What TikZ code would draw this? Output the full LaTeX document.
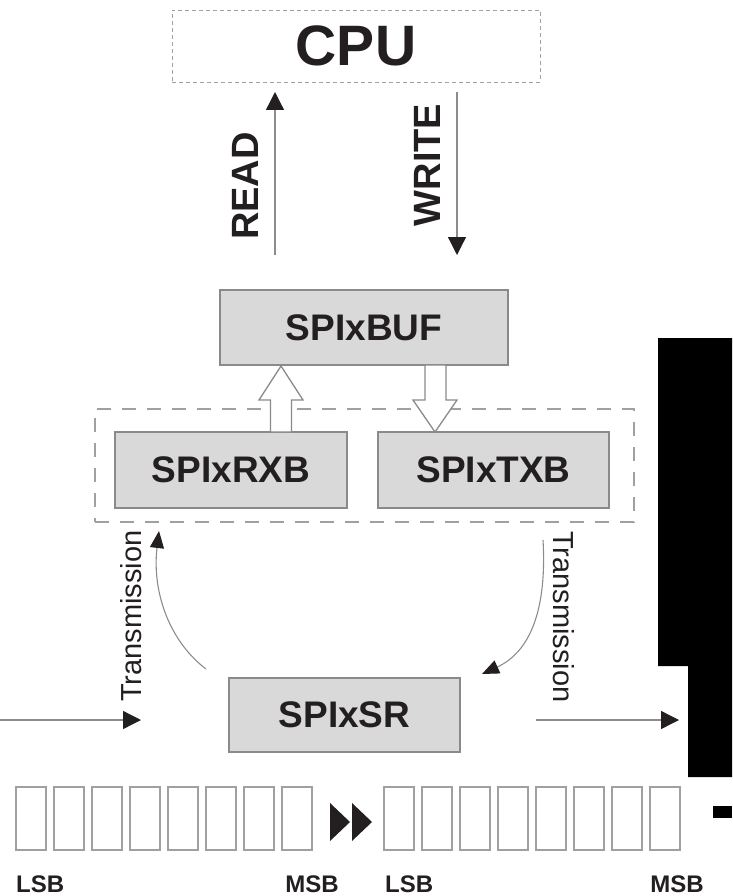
\documentclass[tikz,border=0pt]{standalone}
\usepackage{fontspec}
\setmainfont{Liberation Sans}
\usetikzlibrary{arrows.meta}
\definecolor{txt}{HTML}{231F20}
\definecolor{boxfill}{HTML}{D9D9D9}
\definecolor{boxline}{HTML}{8A8A8A}
\definecolor{lineg}{HTML}{8C8C8C}
\definecolor{dashg}{HTML}{A0A0A0}
\begin{document}
\begin{tikzpicture}[x=1pt,y=-1pt,
  regbox/.style={draw=boxline, line width=1.5pt, fill=boxfill, text=txt,
    font=\fontsize{37}{40}\selectfont\bfseries, inner sep=0pt},
  arr/.style={draw=lineg, line width=1.3pt, -{Triangle[length=18pt,width=18pt,color=txt]}},
  carr/.style={draw=lineg, line width=1.1pt, -{Triangle[length=17pt,width=14pt,color=txt]}},
  vlabel/.style={text=txt, font=\fontsize{38}{40}\selectfont\bfseries, inner sep=0pt, rotate=90},
  tlabel/.style={text=txt, font=\fontsize{29}{32}\selectfont, inner sep=0pt},
  bitlabel/.style={text=txt, font=\fontsize{24}{26}\selectfont\bfseries, inner sep=0pt},
  cell/.style={draw=dashg, line width=1.5pt, fill=white},
  hollow/.style={draw=boxline, line width=1.3pt, fill=white, line join=miter}
]
\useasboundingbox (0,0) rectangle (732,896);

% CPU
\node[draw=dashg, line width=0.9pt, dash pattern=on 4pt off 3pt, text=txt,
  font=\fontsize{57}{60}\selectfont\bfseries, minimum width=368pt, minimum height=72pt, inner sep=0pt]
  (cpu) at (356,46) {CPU};

% READ / WRITE
\coordinate (rd1) at (275,255);
\coordinate (rd2) at (275,92);
\coordinate (wr1) at (457,92);
\coordinate (wr2) at (457,255);
\draw[arr] (rd1) -- (rd2);
\draw[arr] (wr1) -- (wr2);
\node[vlabel] (read) at (245,186) {READ};
\node[vlabel] (write) at (427,165) {WRITE};

% Buffer
\node[regbox, minimum width=288pt, minimum height=75pt] (buf) at (364,327.5) {SPIxBUF};

% group dashed box
\node[draw=dashg, line width=1.8pt, dash pattern=on 14pt off 11pt,
  minimum width=539pt, minimum height=113pt, inner sep=0pt] (grp) at (364.5,465.5) {};

\node[regbox, minimum width=232pt, minimum height=76pt] (rxb) at (231,470) {SPIxRXB};
\node[regbox, minimum width=231pt, minimum height=76pt] (txb) at (493.5,470) {SPIxTXB};

% hollow arrows
\draw[hollow] (270.5,432) -- (270.5,400) -- (259,400) -- (281,366) -- (303,400) -- (291.5,400) -- (291.5,432) -- cycle;
\draw[hollow] (425,365) -- (425,400) -- (413,400) -- (435,432) -- (457,400) -- (446,400) -- (446,365) -- cycle;

% shift register
\node[regbox, minimum width=231pt, minimum height=74pt] (sr) at (344.5,715) {SPIxSR};

% transmission curves
\coordinate (c1s) at (206,669);
\coordinate (c1e) at (159,531);
\coordinate (c2s) at (543,540);
\coordinate (c2e) at (482,674);
\draw[carr] (c1s) .. controls (168,640) and (152,590) .. (c1e);
\draw[carr] (c2s) .. controls (547,610) and (530,652) .. (c2e);
\node[tlabel, rotate=90] (tl) at (131,616) {Transmission};
\node[tlabel, rotate=-90] (tr) at (564,617) {Transmission};

% horizontal arrows
\coordinate (h1s) at (0,720);
\coordinate (h1e) at (141,720);
\coordinate (h2s) at (536,720);
\coordinate (h2e) at (679,720);
\draw[arr] (h1s) -- (h1e);
\draw[arr] (h2s) -- (h2e);

% register cells
\foreach \i in {0,...,7} {
  \draw[cell] ({16+38*\i},787) rectangle ({46+38*\i},850);
  \draw[cell] ({384+38*\i},787) rectangle ({414+38*\i},850);
}
\fill[txt] (330,803) -- (350,822) -- (330,841) -- cycle;
\fill[txt] (352,803) -- (372,822) -- (352,841) -- cycle;

\node[bitlabel, anchor=base west] (lsb1) at (16,892) {LSB};
\node[bitlabel, anchor=base east] (msb1) at (339,892) {MSB};
\node[bitlabel, anchor=base west] (lsb2) at (385,892) {LSB};
\node[bitlabel, anchor=base east] (msb2) at (704,892) {MSB};

% black areas
\fill[black] (658,338) -- (732,338) -- (732,777) -- (688,777) -- (688,666) -- (658,666) -- cycle;
\fill[black] (713,806) rectangle (732,818);
\end{tikzpicture}
\end{document}
